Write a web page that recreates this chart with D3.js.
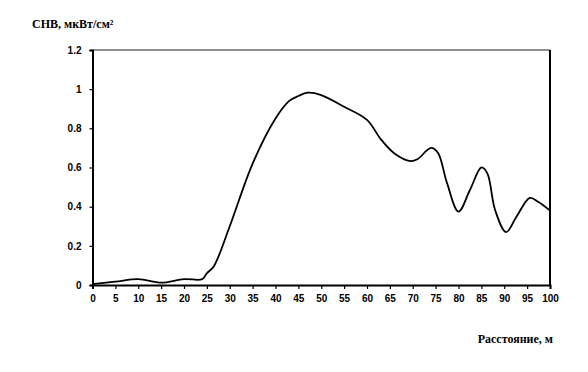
<!DOCTYPE html>
<html>
<head>
<meta charset="utf-8">
<script src="https://cdn.jsdelivr.net/npm/d3@7"></script>
<style>
  body { margin: 0; background: #fff; }
  .tick text { font-family: Arial, "Liberation Sans", sans-serif; font-weight: bold; font-size: 10px; }
  .lbl { font-family: "Liberation Serif", "Times New Roman", serif; font-weight: bold; font-size: 12px; }
</style>
</head>
<body>
<script>
// distance, m
var dist = [0, 5, 10, 15, 20, 24, 25, 26.5, 30, 35, 40, 43, 45, 47, 50, 55, 60, 63, 66, 69.5, 71, 74, 75.5, 77.5, 80, 82.5, 85, 86.3, 88, 90.4, 92.7, 95.6, 97.4, 100];
// power density, mkW/cm2
var pd = [0.005, 0.017, 0.03, 0.012, 0.03, 0.03, 0.06, 0.095, 0.30, 0.62, 0.85, 0.94, 0.965, 0.982, 0.97, 0.91, 0.843, 0.745, 0.672, 0.633, 0.642, 0.70, 0.675, 0.52, 0.375, 0.485, 0.60, 0.57, 0.383, 0.27, 0.35, 0.445, 0.425, 0.38];
var xTicks = d3.range(0, 101, 5);
var yTicks = [0, 0.2, 0.4, 0.6, 0.8, 1, 1.2];

var W = 588, H = 372;
var margin = {top: 50, right: 38, bottom: 87, left: 92.5};
var width = W - margin.left - margin.right,
    height = H - margin.top - margin.bottom;

var svg = d3.select("body").append("svg")
    .attr("width", W)
    .attr("height", H);

var g = svg.append("g")
    .attr("transform", "translate(" + margin.left + "," + margin.top + ")");

var x = d3.scaleLinear().domain([0, 100]).range([0, width]);
var y = d3.scaleLinear().domain([0, 1.2]).range([height, 0]);

// frame top and right
g.append("line").attr("x1", 0).attr("x2", width).attr("y1", 0).attr("y2", 0)
  .attr("stroke", "#222").attr("stroke-width", 1.2);
g.append("line").attr("x1", width).attr("x2", width).attr("y1", 0).attr("y2", height)
  .attr("stroke", "#000").attr("stroke-width", 2);

// axes
var xAxis = g.append("g")
    .attr("transform", "translate(0," + height + ")")
    .call(d3.axisBottom(x).tickValues(xTicks).tickSize(4).tickPadding(6).tickFormat(d3.format("d")));
var yAxis = g.append("g")
    .call(d3.axisLeft(y).tickValues(yTicks).tickSize(3).tickPadding(8));

[xAxis, yAxis].forEach(function(a){
  a.select(".domain").attr("stroke", "#000").attr("stroke-width", 2);
  a.selectAll(".tick line").attr("stroke", "#000").attr("stroke-width", 1.2);
  a.selectAll(".tick text").attr("fill", "#000");
});
yAxis.selectAll(".tick text").text(function(d){ return String(d); });

// curve
var pts = dist.map(function(d, i){ return [d, pd[i]]; });
g.append("path")
  .datum(pts)
  .attr("fill", "none")
  .attr("stroke", "#000")
  .attr("stroke-width", 1.8)
  .attr("d", d3.line().x(function(d){ return x(d[0]); }).y(function(d){ return y(d[1]); }).curve(d3.curveCatmullRom.alpha(0.5)));

// titles
svg.append("text").attr("class", "lbl").attr("x", 32).attr("y", 28).text("СНВ, мкВт/см²");
svg.append("text").attr("class", "lbl").attr("x", 553).attr("y", 343).attr("text-anchor", "end").text("Расстояние, м");
</script>
</body>
</html>
